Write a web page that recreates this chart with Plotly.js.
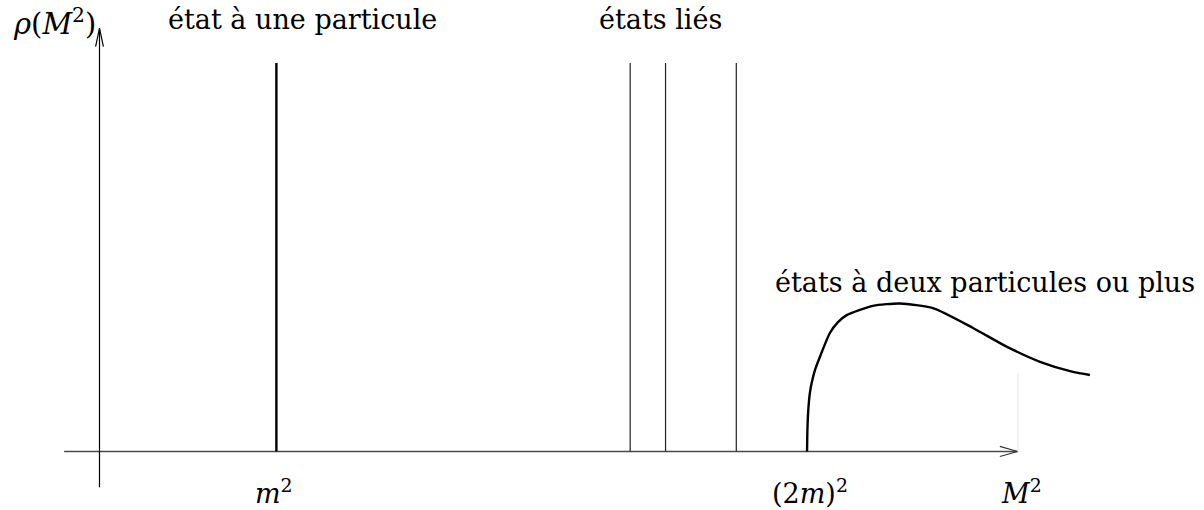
<!DOCTYPE html>
<html>
<head>
<meta charset="utf-8">
<script src="https://cdn.plot.ly/plotly-3.0.1.min.js"></script>
<style>html,body{margin:0;padding:0;background:#fff;}</style>
</head>
<body>
<div id="chart" style="width:1204px;height:510px;"></div>
<script>
// Spectral density sketch: x in units of m^2, y normalised to the delta-peak height
const singleParticle = [1.0];          // one-particle pole at M^2 = m^2
const boundStates = [3.0, 3.2, 3.6];   // bound-state poles below threshold
const threshold = 4.0;                 // (2m)^2
const deltaHeight = 1.0;

// multi-particle continuum rho(M^2)
const contX = [4.000, 4.002, 4.007, 4.016, 4.026, 4.045, 4.073, 4.129, 4.175, 4.224,
               4.373, 4.525, 4.712, 4.938, 5.128, 5.317, 5.503, 5.599];
const contY = [0.000, 0.055, 0.107, 0.151, 0.176, 0.210, 0.244, 0.305, 0.333, 0.351,
               0.375, 0.381, 0.369, 0.318, 0.270, 0.231, 0.205, 0.197];

// axis extents
const xAxisSpan = [-0.20, 5.19];
const yAxisSpan = [-0.092, 1.09];
const faintMark = {x: 5.192, y: [0, 0.202]};

const tickLabels = ['<i>m</i><sup>2</sup>', '(2<i>m</i>)<sup>2</sup>'];
const tickPos = [0.985, 4.016];

const FONT = 'DejaVu Serif, Liberation Serif, serif';
const traces = [];

function seg(xs, ys, color, width) {
  traces.push({x: xs, y: ys, mode: 'lines', type: 'scatter', hoverinfo: 'skip',
               line: {color: color, width: width}, showlegend: false});
}

// axes with open arrow heads
seg(xAxisSpan, [0, 0], '#4a4a4a', 1.5);
seg([xAxisSpan[1] - 0.10, xAxisSpan[1], xAxisSpan[1] - 0.10], [0.013, 0, -0.013], '#333', 1.2);
seg([0, 0], yAxisSpan, '#000', 1.2);
seg([-0.022, 0, 0.022], [yAxisSpan[1] - 0.048, yAxisSpan[1], yAxisSpan[1] - 0.048], '#000', 1.2);

// faint guide at the end of the x axis
seg([faintMark.x, faintMark.x], faintMark.y, '#e2e2e2', 1);

// delta functions
singleParticle.forEach(x => seg([x, x], [0, deltaHeight], '#000', 2.4));
boundStates.forEach(x => seg([x, x], [0, deltaHeight], '#222', 1.2));

// continuum
traces.push({x: contX, y: contY, mode: 'lines', type: 'scatter', hoverinfo: 'skip',
             line: {color: '#000', width: 2.4, shape: 'spline', smoothing: 0.6}, showlegend: false});

const annotations = [];
function label(text, x, y, xanchor, size) {
  annotations.push({text: text, x: x, y: y, xref: 'x', yref: 'y', showarrow: false,
                    xanchor: xanchor || 'center', yanchor: 'middle',
                    font: {family: FONT, size: size || 27, color: '#000'}});
}
tickLabels.forEach((t, i) => label(t, tickPos[i], -0.104, 'center', 27));
label('<i>M</i><sup>2</sup>', 5.215, -0.104, 'center', 27);
label('<i>ρ</i>(<i>M</i><sup>2</sup>)', -0.01, 1.105, 'right', 29);
label('état à une particule', 1.150, 1.111);
label('états liés', 3.174, 1.111);
label('états à deux particules ou plus', 5.006, 0.436);

const layout = {
  width: 1204, height: 510,
  margin: {l: 0, r: 0, t: 0, b: 0},
  paper_bgcolor: '#fff', plot_bgcolor: '#fff',
  xaxis: {range: [-0.5625, 6.244], visible: false, fixedrange: true},
  yaxis: {range: [-0.1506, 1.1622], visible: false, fixedrange: true},
  annotations: annotations,
  showlegend: false
};

Plotly.newPlot('chart', traces, layout, {staticPlot: true, displayModeBar: false});
</script>
</body>
</html>
